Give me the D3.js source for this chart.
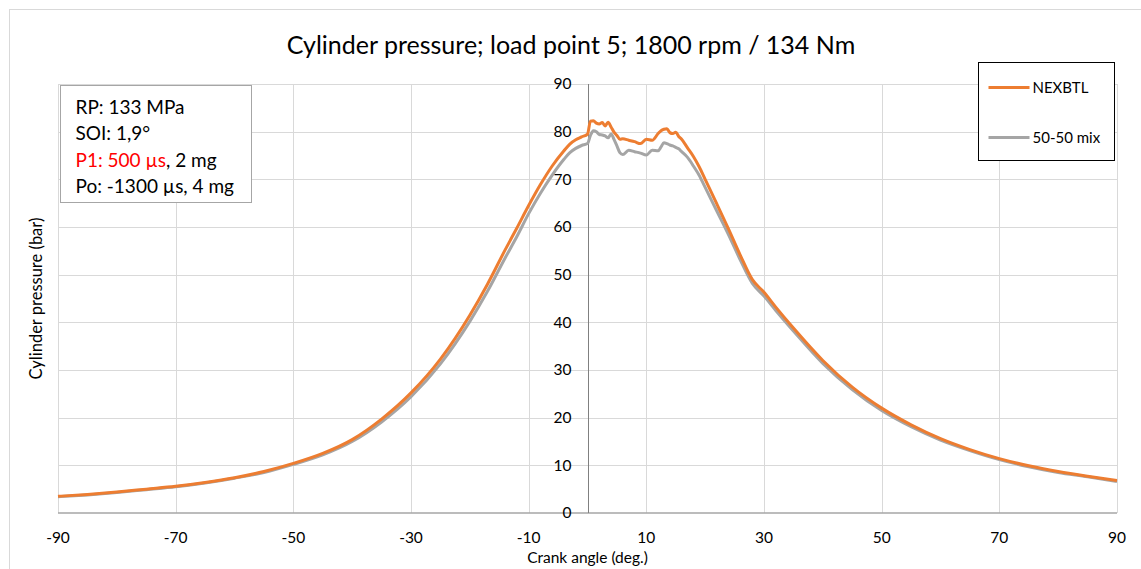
<!DOCTYPE html>
<html>
<head>
<meta charset="utf-8">
<script src="https://cdn.jsdelivr.net/npm/d3@7"></script>
<style>
    body { margin: 0; background: #fff; }
    text { font-family: Lato, "Open Sans", sans-serif; }
</style>
</head>
<body>
<div id="chart"></div>
<script>
// crank angle (deg.)
const crank_angle = [-90,-85,-80,-75,-70,-65,-60,-55,-50,-45,-40,-35,-30,-25,-20,-17,-14,-12,-10,-8,-6,-4,-3,-2,-1,0,
    0.5,1,1.5,2,2.5,3,3.5,4,4.5,5,5.5,6,7,8,9,10,11,12,12.5,13,13.5,14,14.5,15,15.5,16,17,18,19,20,
    22,24,26,28,30,32,35,40,45,50,55,60,65,70,75,80,85,90];

// cylinder pressure (bar)
const nexbtl = [3.5,3.9,4.4,5.0,5.6,6.4,7.4,8.7,10.4,12.5,15.4,19.7,25.2,32.3,41.5,48.0,55.2,59.8,64.5,68.9,72.8,76.0,77.4,78.3,78.9,79.5,
    82.2,82.3,81.8,81.6,81.9,81.2,82.0,81.0,79.9,79.2,78.4,78.5,78.2,77.9,77.5,78.4,78.2,79.6,80.2,80.5,80.6,79.8,79.6,79.9,79.0,78.4,76.6,74.8,72.6,70.0,
    64.8,59.5,54.0,49.0,46.3,43.2,38.8,32.0,26.4,22.0,18.5,15.6,13.3,11.4,9.9,8.7,7.7,6.8];

const mix_50_50 = [3.4,3.8,4.3,4.9,5.5,6.3,7.3,8.5,10.2,12.2,15.0,19.1,24.4,31.3,40.2,46.5,53.5,58.0,62.8,67.1,70.9,74.2,75.6,76.5,77.1,77.5,
    79.2,80.2,80.0,79.4,79.3,79.1,78.7,79.5,78.4,77.0,75.6,75.2,76.1,75.8,75.5,75.1,76.1,76.0,76.8,77.7,77.5,77.2,77.0,76.7,76.4,75.8,74.6,72.8,70.8,68.3,
    63.3,58.3,53.0,48.2,45.5,42.5,38.2,31.4,25.9,21.5,18.1,15.3,13.1,11.2,9.7,8.5,7.6,6.6];

const series_names = ['NEXBTL', '50-50 mix'];
const series_colors = ['#ED7D31', '#A5A5A5'];
const x_ticks = [-90,-70,-50,-30,-10,10,30,50,70,90];
const y_ticks = [0,10,20,30,40,50,60,70,80,90];

const info_lines = [
    [{t: 'RP: 133 MPa'}],
    [{t: 'SOI: 1,9°'}],
    [{t: 'P1: 500 µs', c: '#FF0000'}, {t: ', 2 mg'}],
    [{t: 'Po: -1300 µs, 4 mg'}]
];

const width = 1141, height = 569;
const plot = {left: 58, right: 1117, top: 84, bottom: 513};

const svg = d3.select('#chart')
                .append('svg')
                .attr('width', width)
                .attr('height', height);

// outer chart border
svg.append('rect')
    .attr('x', 9.5)
    .attr('y', 9.5)
    .attr('width', width)
    .attr('height', height)
    .attr('fill', '#fff')
    .attr('stroke', '#d9d9d9');

const x = d3.scaleLinear().domain([-90, 90]).range([plot.left, plot.right]);
const y = d3.scaleLinear().domain([0, 90]).range([plot.bottom, plot.top]);

// gridlines
svg.append('g')
    .selectAll('line')
    .data(y_ticks.filter(d => d > 0))
    .join('line')
    .attr('x1', plot.left)
    .attr('x2', plot.right)
    .attr('y1', d => Math.round(y(d)) + 0.5)
    .attr('y2', d => Math.round(y(d)) + 0.5)
    .attr('stroke', '#d9d9d9');

svg.append('g')
    .selectAll('line')
    .data(x_ticks)
    .join('line')
    .attr('x1', d => Math.round(x(d)) + 0.5)
    .attr('x2', d => Math.round(x(d)) + 0.5)
    .attr('y1', plot.top)
    .attr('y2', plot.bottom)
    .attr('stroke', '#d9d9d9');

// x axis (bottom) and y axis through zero
svg.append('line')
    .attr('x1', plot.left)
    .attr('x2', plot.right)
    .attr('y1', y(0))
    .attr('y2', y(0))
    .attr('stroke', '#a6a6a6')
    .attr('stroke-width', 1.5);

svg.append('line')
    .attr('x1', Math.round(x(0)) + 0.5)
    .attr('x2', Math.round(x(0)) + 0.5)
    .attr('y1', plot.top)
    .attr('y2', plot.bottom)
    .attr('stroke', '#808080');

// tick labels
svg.append('g')
    .selectAll('text')
    .data(x_ticks)
    .join('text')
    .attr('x', d => x(d))
    .attr('y', 543)
    .attr('text-anchor', 'middle')
    .attr('font-size', 15.5)
    .attr('fill', '#000')
    .text(d => d);

svg.append('g')
    .selectAll('text')
    .data(y_ticks)
    .join('text')
    .attr('x', x(0) - 16)
    .attr('y', d => y(d))
    .attr('dy', '0.35em')
    .attr('text-anchor', 'end')
    .attr('font-size', 15.5)
    .attr('fill', '#000')
    .text(d => d);

// axis titles
svg.append('text')
    .attr('x', x(0))
    .attr('y', 563)
    .attr('text-anchor', 'middle')
    .attr('font-size', 15.5)
    .text('Crank angle (deg.)');

svg.append('text')
    .attr('transform', `translate(42, ${(plot.top + plot.bottom) / 2}) rotate(-90)`)
    .attr('text-anchor', 'middle')
    .attr('font-size', 16.5)
    .text('Cylinder pressure (bar)');

// title
svg.append('text')
    .attr('x', 571)
    .attr('y', 54)
    .attr('text-anchor', 'middle')
    .attr('font-size', 25)
    .text('Cylinder pressure; load point 5; 1800 rpm / 134 Nm');

// series lines
const line = d3.line()
                .x((d) => x(d[0]))
                .y((d) => y(d[1]))
                .curve(d3.curveMonotoneX);

const series = [nexbtl, mix_50_50];

// draw the mix first so orange sits on top
[1, 0].forEach(i => {
    svg.append('path')
        .datum(crank_angle.map((a, j) => [a, series[i][j]]))
        .attr('fill', 'none')
        .attr('stroke', series_colors[i])
        .attr('stroke-width', 3)
        .attr('stroke-linejoin', 'round')
        .attr('d', line);
});

// info box
const info = svg.append('g').attr('transform', 'translate(60.5, 85.5)');
info.append('rect')
    .attr('width', 191)
    .attr('height', 117)
    .attr('fill', '#fff')
    .attr('stroke', '#a6a6a6');

info.selectAll('text')
    .data(info_lines)
    .join('text')
    .attr('x', 15)
    .attr('y', (_, i) => 28 + i * 26.5)
    .attr('font-size', 19)
    .selectAll('tspan')
    .data(d => d)
    .join('tspan')
    .attr('fill', d => d.c || '#000')
    .text(d => d.t);

// legend
const legend = svg.append('g').attr('transform', 'translate(978.5, 62.5)');
legend.append('rect')
    .attr('width', 136)
    .attr('height', 98)
    .attr('fill', '#fff')
    .attr('stroke', '#000');

const leg_items = legend.selectAll('g')
    .data(series_names)
    .join('g')
    .attr('transform', (_, i) => `translate(0, ${25 + i * 50})`);

leg_items.append('line')
    .attr('x1', 10)
    .attr('x2', 51)
    .attr('stroke', (_, i) => series_colors[i])
    .attr('stroke-width', 3);

leg_items.append('text')
    .attr('x', 54)
    .attr('dy', '0.35em')
    .attr('font-size', 15)
    .text(d => d);
</script>
</body>
</html>
